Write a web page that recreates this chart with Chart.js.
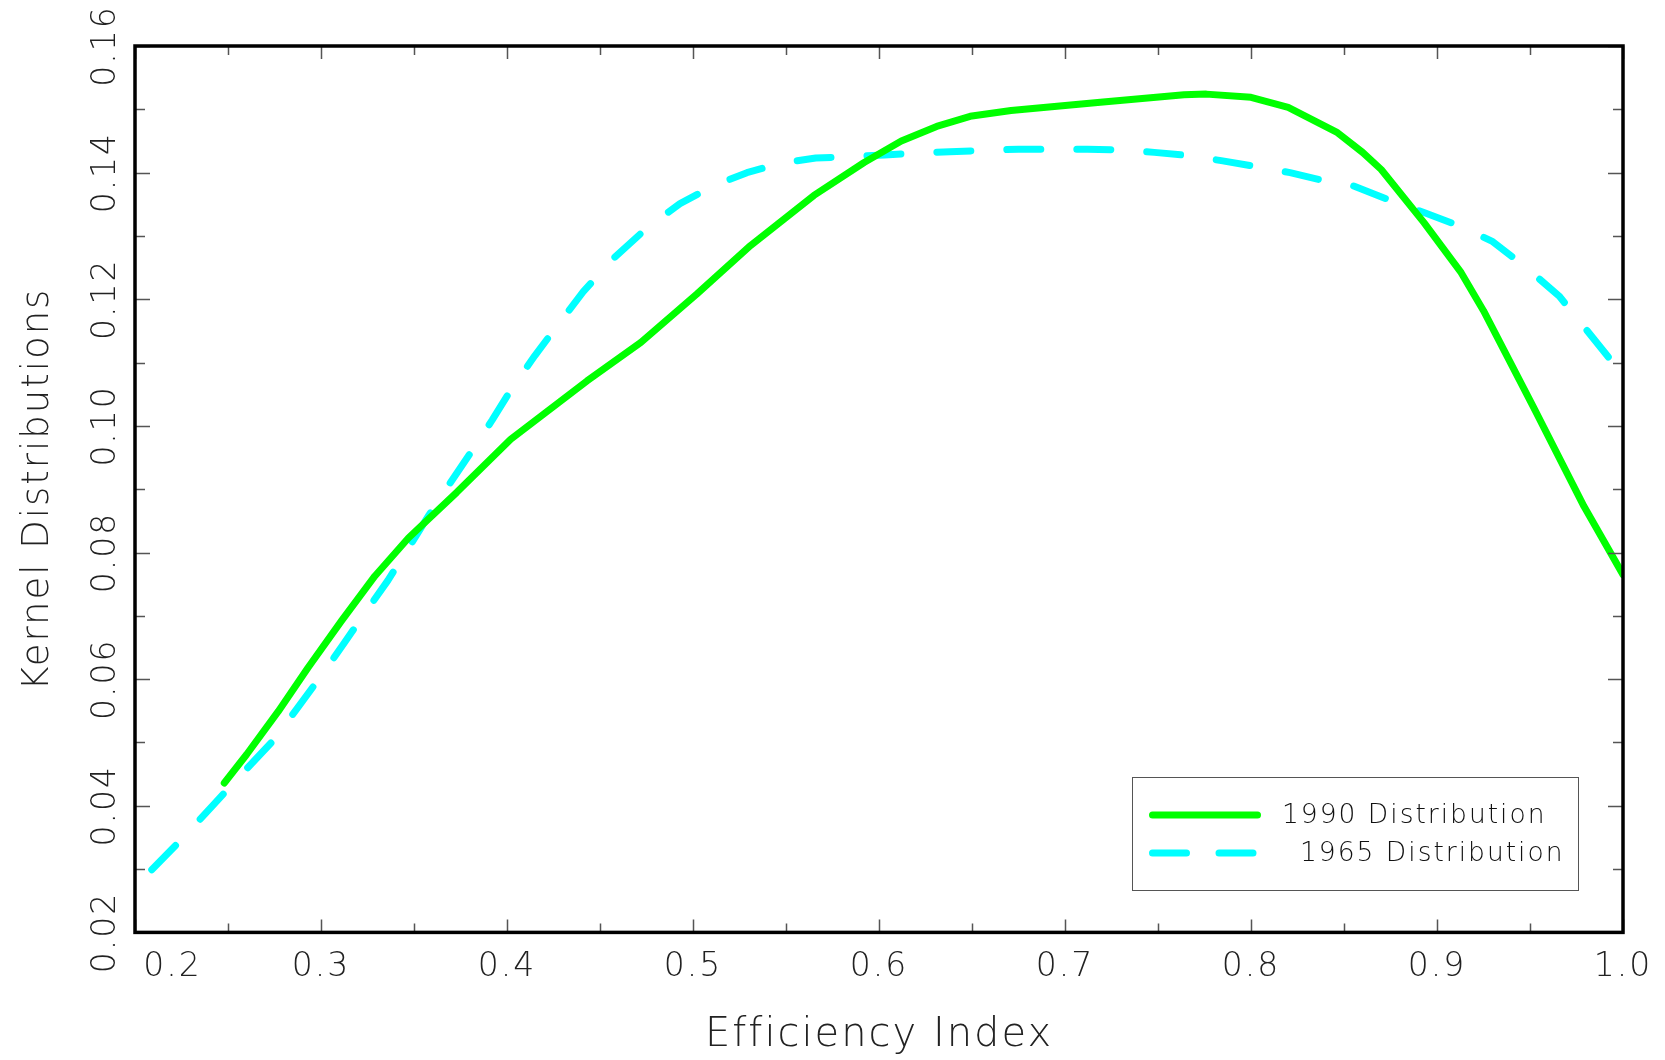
<!DOCTYPE html>
<html>
<head>
<meta charset="utf-8">
<script src="https://cdn.jsdelivr.net/npm/chart.js@4.4.1/dist/chart.umd.min.js"></script>
<style>
  html, body { margin: 0; padding: 0; background: #fff; }
  canvas { display: block; }
</style>
</head>
<body>
<canvas id="kernelChart" width="1665" height="1060"></canvas>
<script>
// values
const x1990 = [0.248, 0.260, 0.277, 0.293, 0.311, 0.329, 0.347, 0.373, 0.402, 0.443, 0.472,
               0.502, 0.531, 0.565, 0.592, 0.612, 0.631, 0.649, 0.671, 0.719, 0.764, 0.776,
               0.800, 0.820, 0.846, 0.860, 0.870, 0.893, 0.913, 0.925, 0.952, 0.979, 1.000];
const y1990 = [0.0436, 0.0481, 0.0549, 0.0618, 0.0692, 0.0763, 0.0823, 0.0895, 0.0979, 0.1071, 0.1132,
               0.1208, 0.1285, 0.1364, 0.1416, 0.1450, 0.1473, 0.1489, 0.1498, 0.1511, 0.1523, 0.1524,
               0.1519, 0.1503, 0.1464, 0.1432, 0.1405, 0.1321, 0.1242, 0.1182, 0.1029, 0.0873, 0.0765];

const x1965 = [0.209, 0.226, 0.242, 0.258, 0.274, 0.287, 0.300, 0.312, 0.324, 0.336, 0.347,
               0.358, 0.369, 0.381, 0.392, 0.403, 0.415, 0.428, 0.441, 0.457, 0.475, 0.493,
               0.511, 0.529, 0.547, 0.566, 0.584, 0.603, 0.620, 0.638, 0.656, 0.675, 0.693,
               0.712, 0.730, 0.748, 0.766, 0.784, 0.802, 0.821, 0.838, 0.855, 0.875, 0.893,
               0.912, 0.930, 0.948, 0.966, 0.980, 0.994];
const y1965 = [0.0299, 0.0350, 0.0401, 0.0452, 0.0502, 0.0553, 0.0605, 0.0655, 0.0706, 0.0756, 0.0807,
               0.0859, 0.0908, 0.0960, 0.1009, 0.1061, 0.1111, 0.1162, 0.1212, 0.1264, 0.1312, 0.1351,
               0.1379, 0.1400, 0.1415, 0.1423, 0.1425, 0.1428, 0.1431, 0.1433, 0.1435, 0.1437, 0.1437,
               0.1437, 0.1436, 0.1432, 0.1427, 0.1419, 0.1410, 0.1400, 0.1388, 0.1379, 0.1356, 0.1337,
               0.1316, 0.1291, 0.1250, 0.1204, 0.1153, 0.1102];

const seriesLabels = ['1990 Distribution', '1965 Distribution'];

const xMajorTicks = [0.2, 0.3, 0.4, 0.5, 0.6, 0.7, 0.8, 0.9, 1.0];
const xMinorTicks = [0.25, 0.35, 0.45, 0.55, 0.65, 0.75, 0.85, 0.95];
const yMajorTicks = [0.02, 0.04, 0.06, 0.08, 0.10, 0.12, 0.14, 0.16];
const yMinorTicks = [0.03, 0.05, 0.07, 0.09, 0.11, 0.13, 0.15];

const FONT = "'DejaVu Sans', sans-serif";

const toPoints = (xs, ys) => xs.map((x, i) => ({x: x, y: ys[i]}));

// canvas state is reset whenever the canvas is resized, so set spacing every time
const spacing = {
    id: 'spacing',
    beforeUpdate(chart) { chart.ctx.letterSpacing = '2px'; },
    beforeDraw(chart) { chart.ctx.letterSpacing = '2px'; }
};

// thick box round the plot with inward ticks on every side
const frame = {
    id: 'frame',
    afterDatasetsDraw(chart) {
        const {ctx, chartArea: a, scales: {x, y}} = chart;
        ctx.save();
        ctx.strokeStyle = '#555';
        ctx.lineWidth = 1.5;
        ctx.beginPath();
        const xt = (v, len) => {
            const px = Math.round(x.getPixelForValue(v)) + 0.5;
            ctx.moveTo(px, a.bottom); ctx.lineTo(px, a.bottom - len);
            ctx.moveTo(px, a.top); ctx.lineTo(px, a.top + len);
        };
        const yt = (v, len) => {
            const py = Math.round(y.getPixelForValue(v)) + 0.5;
            ctx.moveTo(a.left, py); ctx.lineTo(a.left + len, py);
            ctx.moveTo(a.right, py); ctx.lineTo(a.right - len, py);
        };
        xMajorTicks.forEach(v => xt(v, 13));
        xMinorTicks.forEach(v => xt(v, 9));
        yMajorTicks.forEach(v => yt(v, 15));
        yMinorTicks.forEach(v => yt(v, 10));
        ctx.stroke();

        ctx.strokeStyle = '#000';
        ctx.lineWidth = 3.5;
        ctx.strokeRect(a.left, a.top, a.right - a.left, a.bottom - a.top);
        ctx.restore();
    }
};

const boxLegend = {
    id: 'boxLegend',
    afterDraw(chart) {
        const ctx = chart.ctx;
        ctx.save();
        ctx.strokeStyle = '#555';
        ctx.lineWidth = 1;
        ctx.strokeRect(1132.5, 777.5, 446, 113);

        const rows = [{y: 815, tx: 1282}, {y: 853, tx: 1300}];
        chart.data.datasets.forEach((ds, i) => {
            const r = rows[i];
            ctx.strokeStyle = ds.borderColor;
            ctx.lineWidth = ds.borderWidth;
            ctx.lineCap = 'round';
            ctx.setLineDash(ds.borderDash ? [34, 32.5] : []);
            ctx.beginPath();
            ctx.moveTo(1152.5, r.y);
            ctx.lineTo(1257.5, r.y);
            ctx.stroke();
            ctx.setLineDash([]);

            ctx.fillStyle = '#111';
            ctx.font = `200 26.5px ${FONT}`;
            ctx.letterSpacing = '2px';
            ctx.textBaseline = 'middle';
            ctx.textAlign = 'left';
            ctx.fillText(ds.label, r.tx, r.y + 1);
        });
        ctx.restore();
    }
};

new Chart(document.getElementById('kernelChart'), {
    type: 'line',
    data: {
        datasets: [{
            label: seriesLabels[0],
            data: toPoints(x1990, y1990),
            borderColor: '#00ff00',
            borderWidth: 7,
            borderCapStyle: 'round',
            borderJoinStyle: 'round',
            pointRadius: 0,
            tension: 0
        }, {
            label: seriesLabels[1],
            data: toPoints(x1965, y1965),
            borderColor: '#00ffff',
            borderWidth: 7,
            borderDash: [34, 36],
            borderCapStyle: 'round',
            borderJoinStyle: 'round',
            pointRadius: 0,
            tension: 0
        }]
    },
    options: {
        responsive: false,
        animation: false,
        layout: {
            padding: {left: 9, right: 42, top: 46, bottom: 0}
        },
        plugins: {
            legend: {display: false},
            tooltip: {enabled: false}
        },
        scales: {
            x: {
                type: 'linear',
                min: 0.2,
                max: 1.0,
                afterBuildTicks: s => { s.ticks = xMajorTicks.map(v => ({value: v})); },
                grid: {display: false},
                border: {display: false},
                ticks: {
                    padding: 7.5,
                    color: '#222',
                    font: {family: FONT, size: 33, weight: 200},
                    // the first label sits a little right of its tick in the original
                    callback: v => (v === 0.2 ? '      ' : '') + v.toFixed(1)
                },
                title: {
                    display: true,
                    text: 'Efficiency Index',
                    color: '#222',
                    font: {family: FONT, size: 40, weight: 200},
                    padding: {top: 17, bottom: 0}
                }
            },
            y: {
                type: 'linear',
                min: 0.02,
                max: 0.16,
                afterBuildTicks: s => { s.ticks = yMajorTicks.map(v => ({value: v})); },
                grid: {display: false},
                border: {display: false},
                ticks: {
                    padding: -20,
                    minRotation: 90,
                    maxRotation: 90,
                    crossAlign: 'center',
                    color: '#222',
                    font: {family: FONT, size: 33, weight: 200},
                    callback: v => v.toFixed(2)
                },
                title: {
                    display: true,
                    text: 'Kernel Distributions',
                    color: '#222',
                    font: {family: FONT, size: 37, weight: 200},
                    padding: {top: 7, bottom: 67}
                }
            }
        }
    },
    plugins: [spacing, frame, boxLegend]
});
</script>
</body>
</html>
